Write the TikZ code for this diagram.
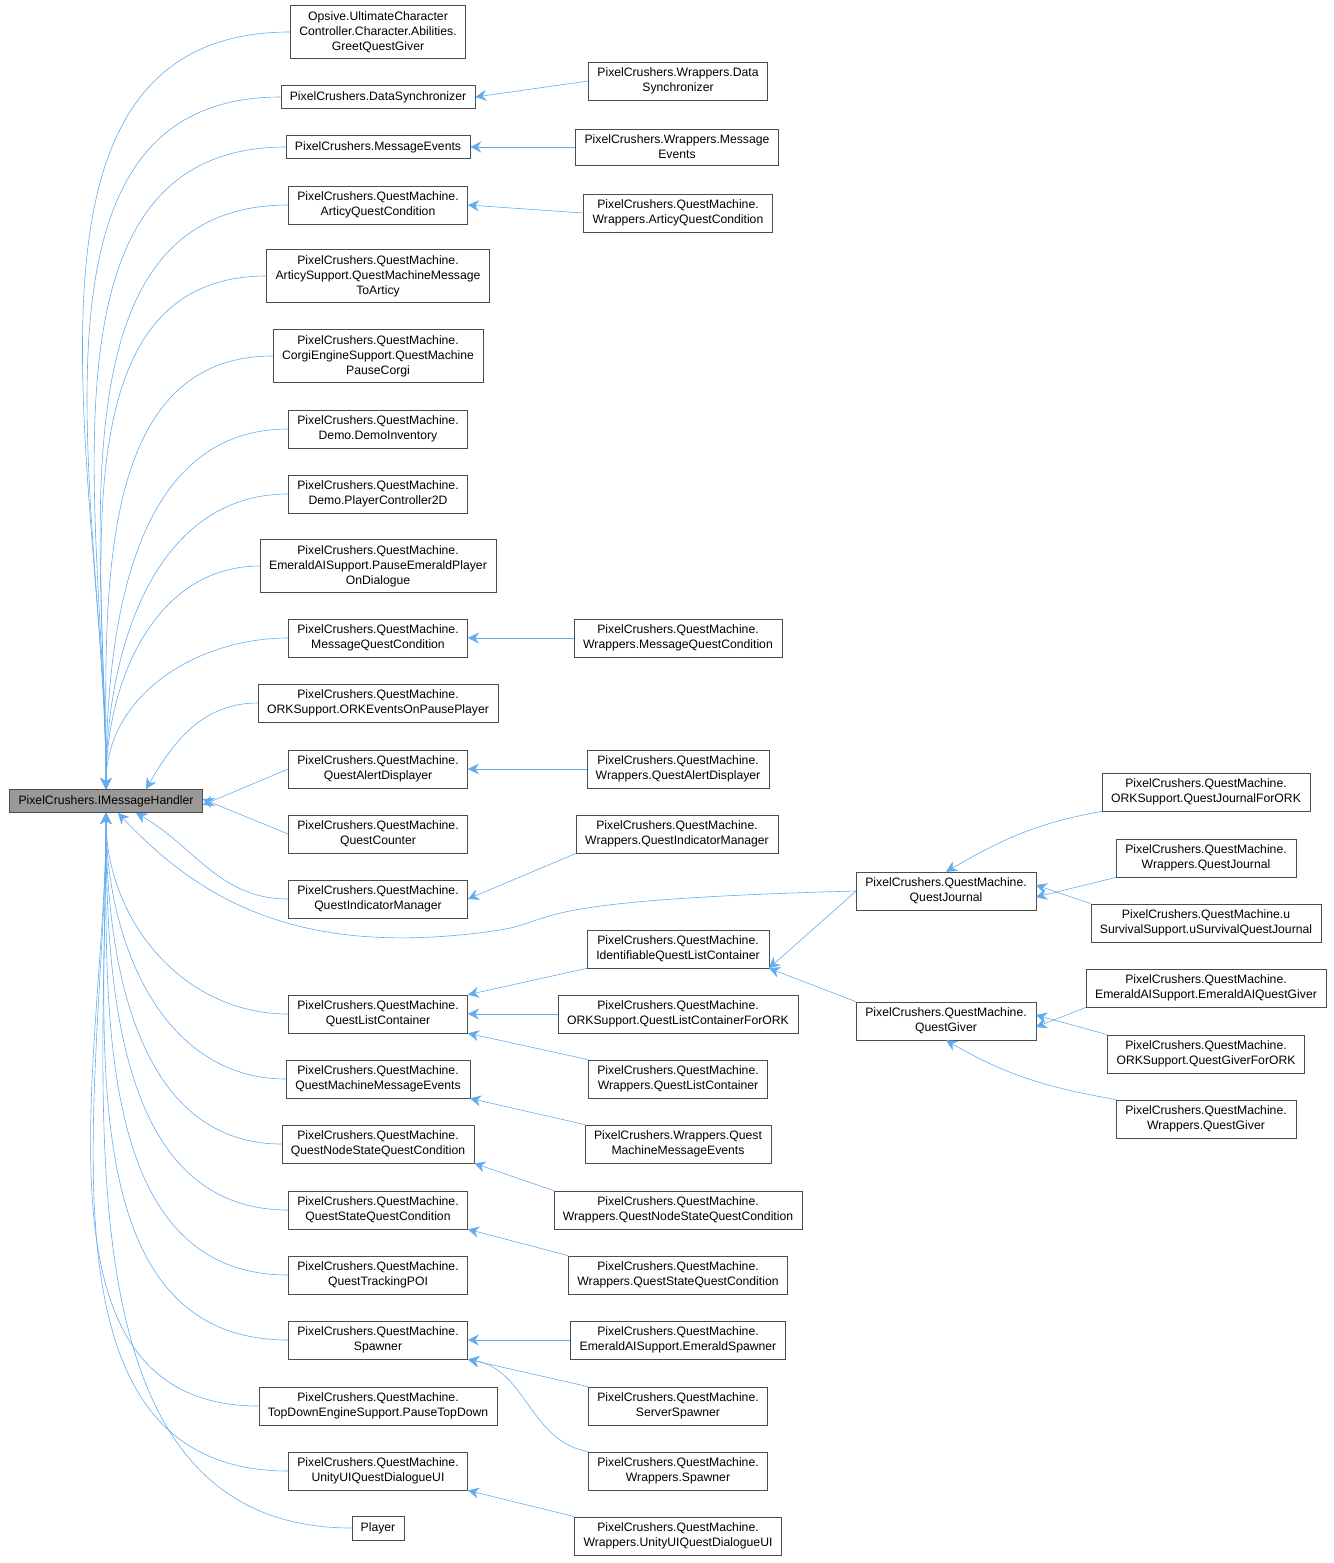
\documentclass[tikz,border=0pt]{standalone}
\usepackage{fontspec}
\setmainfont{Liberation Sans}
\usetikzlibrary{arrows.meta}
\definecolor{edgeblue}{HTML}{63ACF0}
\definecolor{boxgray}{HTML}{999999}
\tikzset{
  cls/.style={draw=black!70, fill=white, align=center, inner xsep=9pt, inner ysep=6pt,
    font=\fontsize{12.2}{15}\selectfont},
  edge/.style={draw=edgeblue, {Stealth[length=11pt,width=11pt,fill=edgeblue]}-, line width=0.6pt}
}
\begin{document}
\begin{tikzpicture}[x=1pt, y=-1pt]
  \useasboundingbox (0,0) rectangle (1333,1563);

  \node[cls, fill=boxgray] (root) at (106,801) {PixelCrushers.IMessageHandler};

  % first column
  \node[cls] (opsive) at (378,32) {Opsive.UltimateCharacter\\Controller.Character.Abilities.\\GreetQuestGiver};
  \node[cls] (datasync) at (378,97) {PixelCrushers.DataSynchronizer};
  \node[cls] (msgevents) at (378,147) {PixelCrushers.MessageEvents};
  \node[cls] (articycond) at (378,205) {PixelCrushers.QuestMachine.\\ArticyQuestCondition};
  \node[cls] (articymsg) at (378,276) {PixelCrushers.QuestMachine.\\ArticySupport.QuestMachineMessage\\ToArticy};
  \node[cls] (corgi) at (378,356) {PixelCrushers.QuestMachine.\\CorgiEngineSupport.QuestMachine\\PauseCorgi};
  \node[cls] (demoinv) at (378,429) {PixelCrushers.QuestMachine.\\Demo.DemoInventory};
  \node[cls] (democtrl) at (378,494) {PixelCrushers.QuestMachine.\\Demo.PlayerController2D};
  \node[cls] (emeraldpause) at (378,566) {PixelCrushers.QuestMachine.\\EmeraldAISupport.PauseEmeraldPlayer\\OnDialogue};
  \node[cls] (msgcond) at (378,638) {PixelCrushers.QuestMachine.\\MessageQuestCondition};
  \node[cls] (orkpause) at (378,703) {PixelCrushers.QuestMachine.\\ORKSupport.ORKEventsOnPausePlayer};
  \node[cls] (alert) at (378,769) {PixelCrushers.QuestMachine.\\QuestAlertDisplayer};
  \node[cls] (counter) at (378,834) {PixelCrushers.QuestMachine.\\QuestCounter};
  \node[cls] (indicator) at (378,899) {PixelCrushers.QuestMachine.\\QuestIndicatorManager};
  \node[cls] (listcont) at (378,1014) {PixelCrushers.QuestMachine.\\QuestListContainer};
  \node[cls] (qmmsgevents) at (378,1079) {PixelCrushers.QuestMachine.\\QuestMachineMessageEvents};
  \node[cls] (nodecond) at (378,1144) {PixelCrushers.QuestMachine.\\QuestNodeStateQuestCondition};
  \node[cls] (statecond) at (378,1210) {PixelCrushers.QuestMachine.\\QuestStateQuestCondition};
  \node[cls] (trackpoi) at (378,1275) {PixelCrushers.QuestMachine.\\QuestTrackingPOI};
  \node[cls] (spawner) at (378,1340) {PixelCrushers.QuestMachine.\\Spawner};
  \node[cls] (topdown) at (378,1406) {PixelCrushers.QuestMachine.\\TopDownEngineSupport.PauseTopDown};
  \node[cls] (dialogue) at (378,1471) {PixelCrushers.QuestMachine.\\UnityUIQuestDialogueUI};
  \node[cls] (player) at (378,1528) {Player};

  % second column
  \node[cls] (wdatasync) at (678,81) {PixelCrushers.Wrappers.Data\\Synchronizer};
  \node[cls] (wmsgevents) at (677,147) {PixelCrushers.Wrappers.Message\\Events};
  \node[cls] (warticycond) at (678,213) {PixelCrushers.QuestMachine.\\Wrappers.ArticyQuestCondition};
  \node[cls] (wmsgcond) at (678,638) {PixelCrushers.QuestMachine.\\Wrappers.MessageQuestCondition};
  \node[cls] (walert) at (678,769) {PixelCrushers.QuestMachine.\\Wrappers.QuestAlertDisplayer};
  \node[cls] (windicator) at (677,834) {PixelCrushers.QuestMachine.\\Wrappers.QuestIndicatorManager};
  \node[cls] (identlist) at (678,949) {PixelCrushers.QuestMachine.\\IdentifiableQuestListContainer};
  \node[cls] (orklist) at (678,1014) {PixelCrushers.QuestMachine.\\ORKSupport.QuestListContainerForORK};
  \node[cls] (wlist) at (678,1079) {PixelCrushers.QuestMachine.\\Wrappers.QuestListContainer};
  \node[cls] (wqmmsg) at (678,1144) {PixelCrushers.Wrappers.Quest\\MachineMessageEvents};
  \node[cls] (wnodecond) at (678,1210) {PixelCrushers.QuestMachine.\\Wrappers.QuestNodeStateQuestCondition};
  \node[cls] (wstatecond) at (678,1275) {PixelCrushers.QuestMachine.\\Wrappers.QuestStateQuestCondition};
  \node[cls] (emeraldspawn) at (678,1340) {PixelCrushers.QuestMachine.\\EmeraldAISupport.EmeraldSpawner};
  \node[cls] (serverspawn) at (678,1406) {PixelCrushers.QuestMachine.\\ServerSpawner};
  \node[cls] (wspawner) at (678,1471) {PixelCrushers.QuestMachine.\\Wrappers.Spawner};
  \node[cls] (wdialogue) at (678,1536) {PixelCrushers.QuestMachine.\\Wrappers.UnityUIQuestDialogueUI};

  % third and fourth column
  \node[cls] (journal) at (946,891) {PixelCrushers.QuestMachine.\\QuestJournal};
  \node[cls] (giver) at (946,1021) {PixelCrushers.QuestMachine.\\QuestGiver};
  \node[cls] (orkjournal) at (1206,792) {PixelCrushers.QuestMachine.\\ORKSupport.QuestJournalForORK};
  \node[cls] (wjournal) at (1206,858) {PixelCrushers.QuestMachine.\\Wrappers.QuestJournal};
  \node[cls] (ujournal) at (1206,923) {PixelCrushers.QuestMachine.u\\SurvivalSupport.uSurvivalQuestJournal};
  \node[cls] (emeraldgiver) at (1206,988) {PixelCrushers.QuestMachine.\\EmeraldAISupport.EmeraldAIQuestGiver};
  \node[cls] (orkgiver) at (1206,1054) {PixelCrushers.QuestMachine.\\ORKSupport.QuestGiverForORK};
  \node[cls] (wgiver) at (1206,1119) {PixelCrushers.QuestMachine.\\Wrappers.QuestGiver};

  % edges into the root
  \foreach \c in {opsive,datasync,msgevents,articycond,articymsg,corgi,demoinv,democtrl,emeraldpause,msgcond}
    \draw[edge] (root.north) to[out=90,in=180] (\c.west);
  \draw[edge] ([xshift=40]root.north) to[out=60,in=180] (orkpause.west);
  \draw[edge] ([yshift=-4]root.east) -- (alert.west);
  \draw[edge] ([yshift=2]root.east) -- (counter.west);
  \draw[edge] ([xshift=30]root.south) to[out=-30,in=180] (indicator.west);
  \draw[edge] ([xshift=12]root.south) .. controls (200,900) and (300,960) .. (500,930)
    .. controls (560,920) and (520,900) .. (journal.west);
  \foreach \c in {listcont,qmmsgevents,nodecond,statecond,trackpoi,spawner,topdown,dialogue,player}
    \draw[edge] (root.south) to[out=-90,in=180] (\c.west);

  % other edges
  \draw[edge] (datasync.east) -- (wdatasync.west);
  \draw[edge] (msgevents.east) -- (wmsgevents.west);
  \draw[edge] (articycond.east) -- (warticycond.west);
  \draw[edge] (msgcond.east) -- (wmsgcond.west);
  \draw[edge] (alert.east) -- (walert.west);
  \draw[edge] (indicator.east) -- (windicator.south west);
  \draw[edge] (listcont.north east) -- (identlist.south west);
  \draw[edge] (listcont.east) -- (orklist.west);
  \draw[edge] (listcont.south east) -- (wlist.north west);
  \draw[edge] (qmmsgevents.south east) -- (wqmmsg.north west);
  \draw[edge] (nodecond.south east) -- (wnodecond.north west);
  \draw[edge] (statecond.south east) -- (wstatecond.north west);
  \draw[edge] (spawner.east) -- (emeraldspawn.west);
  \draw[edge] (spawner.south east) -- (serverspawn.north west);
  \draw[edge] (spawner.south east) to[out=-10,in=170] (wspawner.north west);
  \draw[edge] (dialogue.south east) -- (wdialogue.north west);
  \draw[edge] (identlist.south east) -- (journal.west);
  \draw[edge] (identlist.south east) -- (giver.north west);
  \draw[edge] (journal.north) to[out=30,in=190] (orkjournal.south west);
  \draw[edge] ([yshift=-6]journal.east) -- (wjournal.south west);
  \draw[edge] ([yshift=6]journal.east) -- (ujournal.north west);
  \draw[edge] ([yshift=-6]giver.east) -- (emeraldgiver.south west);
  \draw[edge] ([yshift=6]giver.east) -- (orkgiver.north west);
  \draw[edge] (giver.south) to[out=-30,in=170] (wgiver.north west);
\end{tikzpicture}
\end{document}
